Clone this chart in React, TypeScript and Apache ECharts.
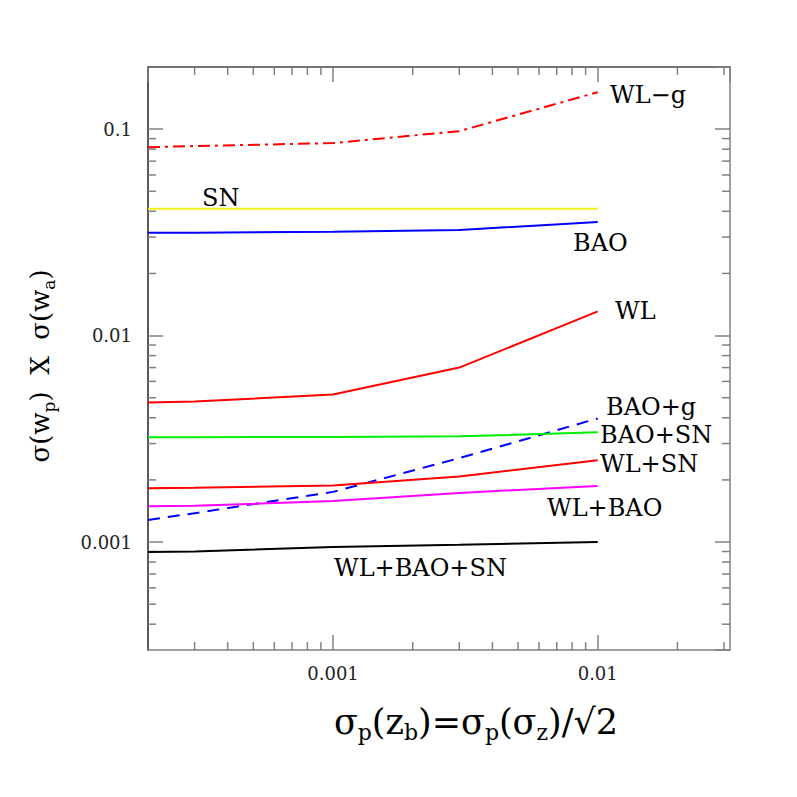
import React, { useEffect, useRef } from "react";
import * as echarts from "echarts";

// ---- data ----
const xValues = [0.0002, 0.0003, 0.001, 0.003, 0.01];

const wlG = [0.0818, 0.0828, 0.0856, 0.0978, 0.151];
const sn = [0.0411, 0.0411, 0.0411, 0.0411, 0.0411];
const bao = [0.0315, 0.0315, 0.0318, 0.0325, 0.0355];
const wl = [0.00474, 0.00479, 0.00519, 0.007, 0.0131];
const baoG = [0.00128, 0.00138, 0.00175, 0.00255, 0.00397];
const baoSn = [0.00322, 0.00322, 0.00323, 0.00325, 0.0034];
const wlSn = [0.00182, 0.00183, 0.00188, 0.00208, 0.00249];
const wlBao = [0.00149, 0.0015, 0.00158, 0.00173, 0.00187];
const wlBaoSn = [0.000895, 0.0009, 0.000947, 0.00097, 0.001];

const xMin = 0.0002;
const xMax = 0.0316;
const yMin = 0.0003;
const yMax = 0.2;

const xMinorTicks = [
  0.0003, 0.0004, 0.0005, 0.0006, 0.0007, 0.0008, 0.0009,
  0.002, 0.003, 0.004, 0.005, 0.006, 0.007, 0.008, 0.009,
  0.02, 0.03,
];
const yMinorTicks = [
  0.0004, 0.0005, 0.0006, 0.0007, 0.0008, 0.0009,
  0.002, 0.003, 0.004, 0.005, 0.006, 0.007, 0.008, 0.009,
  0.02, 0.03, 0.04, 0.05, 0.06, 0.07, 0.08, 0.09,
];

const seriesNames = ["WL−g", "SN", "BAO", "WL", "BAO+g", "BAO+SN", "WL+SN", "WL+BAO", "WL+BAO+SN"];
const seriesValues = [wlG, sn, bao, wl, baoG, baoSn, wlSn, wlBao, wlBaoSn];

// ---- styles / layout ----
const seriesStyles: { color: string; type: any }[] = [
  { color: "#ff0000", type: [12, 5, 3, 5] },
  { color: "#f2f21a", type: "solid" },
  { color: "#0000ff", type: "solid" },
  { color: "#ff0000", type: "solid" },
  { color: "#0000ff", type: [12, 8] },
  { color: "#00ee00", type: "solid" },
  { color: "#ff0000", type: "solid" },
  { color: "#ff00ff", type: "solid" },
  { color: "#000000", type: "solid" },
];

const labelPos = [
  [610, 95],
  [202, 198],
  [573, 243],
  [615, 311],
  [606, 407],
  [600, 435],
  [600, 464],
  [547, 508],
  [334, 568],
];

const SERIF = "DejaVu Serif";
const GRID = { left: 148, top: 67, right: 67, bottom: 147 };
const TICK = "#808080";

export default function App() {
  const ref = useRef<HTMLDivElement>(null);

  useEffect(() => {
    if (!ref.current) return;
    const chart = echarts.init(ref.current, undefined, { renderer: "svg" });

    const fmt = (v: number) => String(parseFloat(Number(v).toPrecision(6)));

    const axisCommon = {
      type: "log" as const,
      logBase: 10,
      splitLine: { show: false },
      axisTick: { show: true, inside: true, length: 15, lineStyle: { color: TICK, width: 1.5 } },
    };

    const lineSeries = seriesValues.map((vals, i) => ({
      type: "line",
      name: seriesNames[i],
      data: xValues.map((x, j) => [x, vals[j]]),
      showSymbol: false,
      symbol: "none",
      lineStyle: { color: seriesStyles[i].color, width: 2, type: seriesStyles[i].type },
      itemStyle: { color: seriesStyles[i].color },
      silent: true,
      z: 3,
    }));

    const rich = (main: number, sub: number, lh: number, subLh: number) => ({
      m: { fontSize: main, fontFamily: SERIF, lineHeight: lh, verticalAlign: "middle", fill: "#000", color: "#000" },
      s: { fontSize: sub, fontFamily: SERIF, lineHeight: subLh, verticalAlign: "bottom", fill: "#000", color: "#000" },
    });

    chart.setOption({
      animation: false,
      backgroundColor: "#ffffff",
      grid: { ...GRID, containLabel: false, outerBoundsMode: "none" },
      xAxis: [
        {
          ...axisCommon,
          position: "bottom",
          min: xMin,
          max: xMax,
          axisLine: { show: true, lineStyle: { color: TICK, width: 1.5 } },
          axisLabel: {
            show: true,
            margin: 14,
            showMinLabel: false,
            showMaxLabel: false,
            color: "#222",
            fontFamily: SERIF,
            fontSize: 18,
            formatter: fmt,
          },
        },
        {
          ...axisCommon,
          position: "top",
          min: xMin,
          max: xMax,
          axisLine: { show: true, lineStyle: { color: "#444", width: 1.5 } },
          axisLabel: { show: false },
        },
      ],
      yAxis: [
        {
          ...axisCommon,
          position: "left",
          min: yMin,
          max: yMax,
          axisLine: { show: true, lineStyle: { color: "#222", width: 1.5 } },
          axisLabel: {
            show: true,
            margin: 16,
            showMinLabel: false,
            showMaxLabel: false,
            color: "#222",
            fontFamily: SERIF,
            fontSize: 18,
            formatter: fmt,
          },
        },
        {
          ...axisCommon,
          position: "right",
          min: yMin,
          max: yMax,
          axisLine: { show: true, lineStyle: { color: TICK, width: 1.5 } },
          axisLabel: { show: false },
        },
      ],
      series: [
        ...lineSeries,
        {
          type: "custom",
          silent: true,
          data: xMinorTicks.map((v) => [v, 0.01]),
          renderItem: (params: any, api: any) => {
            const cs = params.coordSys;
            const p = api.coord([api.value(0), api.value(1)]);
            const bottom = cs.y + cs.height;
            return {
              type: "group",
              children: [
                { type: "line", shape: { x1: p[0], y1: bottom, x2: p[0], y2: bottom - 8 }, style: { stroke: TICK, lineWidth: 1.5 } },
                { type: "line", shape: { x1: p[0], y1: cs.y, x2: p[0], y2: cs.y + 8 }, style: { stroke: TICK, lineWidth: 1.5 } },
              ],
            };
          },
          z: 2,
        },
        {
          type: "custom",
          silent: true,
          data: yMinorTicks.map((v) => [0.001, v]),
          renderItem: (params: any, api: any) => {
            const cs = params.coordSys;
            const p = api.coord([api.value(0), api.value(1)]);
            const right = cs.x + cs.width;
            return {
              type: "group",
              children: [
                { type: "line", shape: { x1: cs.x, y1: p[1], x2: cs.x + 8, y2: p[1] }, style: { stroke: TICK, lineWidth: 1.5 } },
                { type: "line", shape: { x1: right, y1: p[1], x2: right - 8, y2: p[1] }, style: { stroke: TICK, lineWidth: 1.5 } },
              ],
            };
          },
          z: 2,
        },
      ],
      graphic: [
        ...seriesNames.map((name, i) => ({
          type: "text",
          x: labelPos[i][0],
          y: labelPos[i][1],
          silent: true,
          style: {
            text: name,
            fill: "#000",
            fontSize: 24,
            fontFamily: SERIF,
            lineHeight: 22,
            textAlign: "left",
            textVerticalAlign: "middle",
          },
        })),
        {
          type: "text",
          x: 476,
          y: 722,
          silent: true,
          style: {
            text: "{m|σ}{s|p}{m|(z}{s|b}{m|)=σ}{s|p}{m|(σ}{s|z}{m|)/√2}",
            rich: rich(35, 22, 42, 22),
            textAlign: "center",
            textVerticalAlign: "middle",
          },
        },
        {
          type: "text",
          x: 40,
          y: 366,
          rotation: Math.PI / 2,
          silent: true,
          style: {
            text: "{m|σ(w}{s|p}{m|)  X  σ(w}{s|a}{m|)}",
            rich: rich(26, 17, 34, 18),
            textAlign: "center",
            textVerticalAlign: "middle",
          },
        },
      ],
    });

    return () => chart.dispose();
  }, []);

  return (
    <div
      ref={ref}
      style={{ position: "fixed", left: 0, top: 0, width: 797, height: 797, background: "#fff" }}
    />
  );
}
